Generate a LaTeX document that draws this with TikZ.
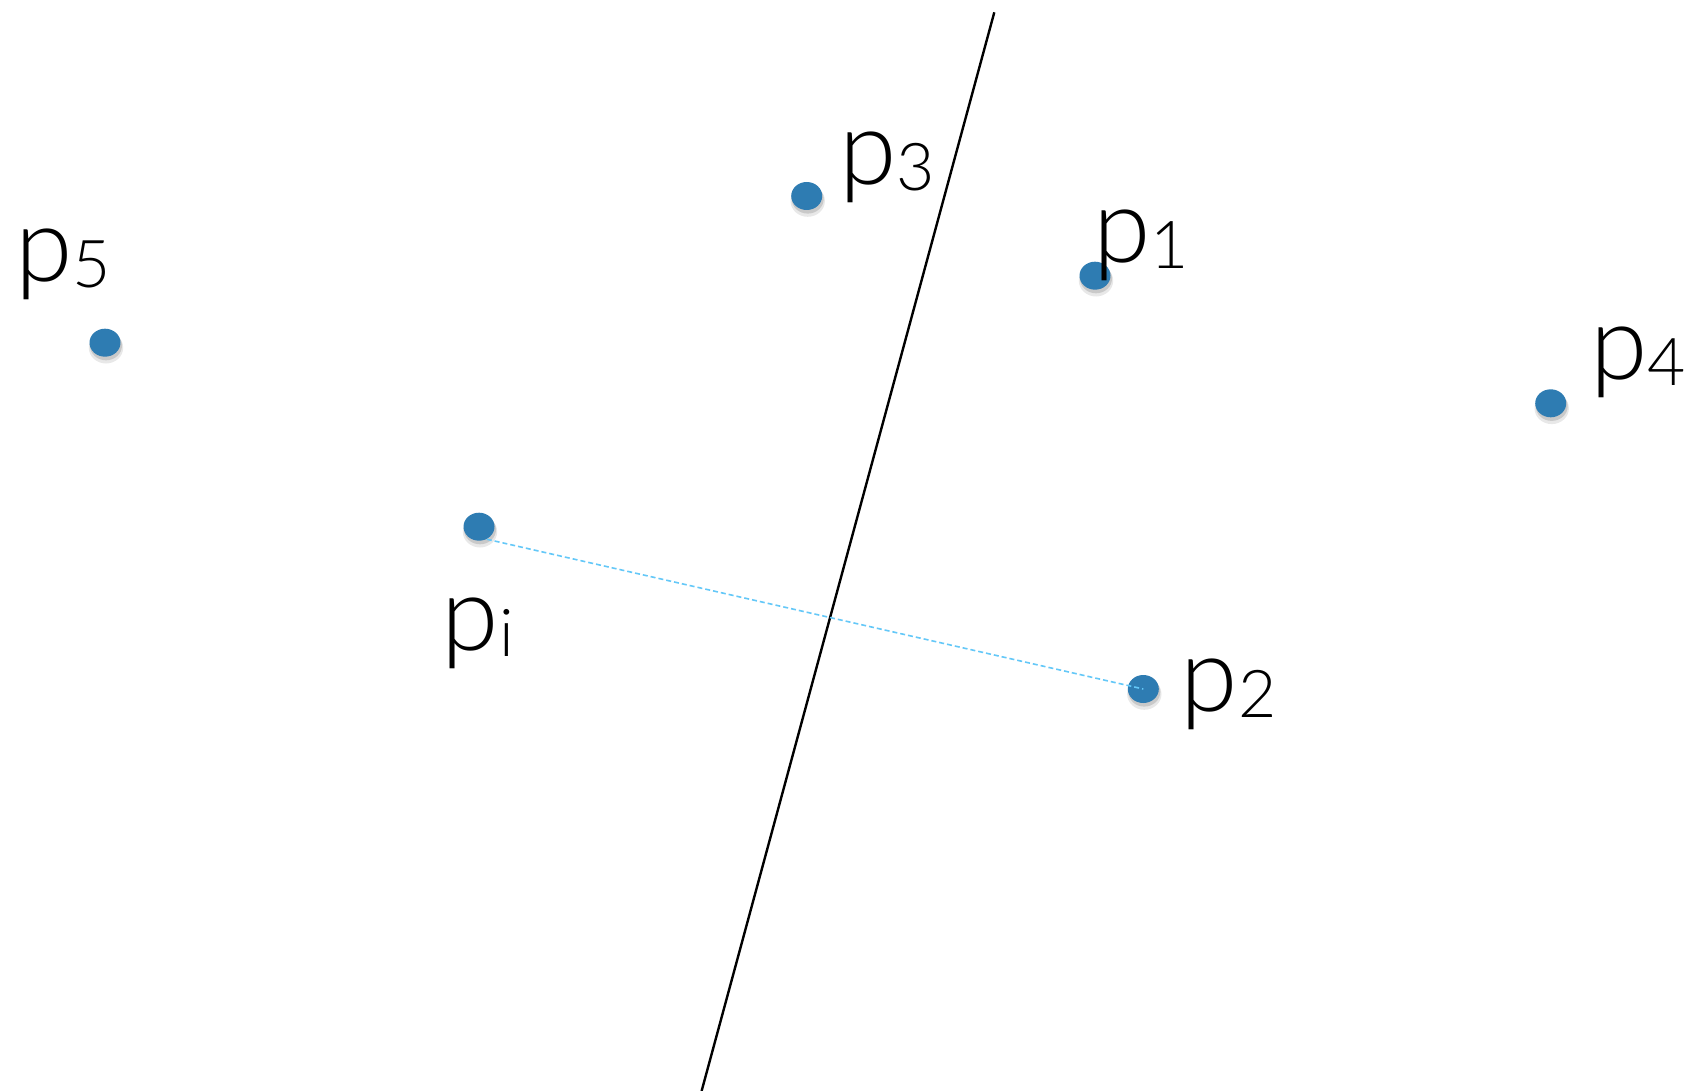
\documentclass[tikz,border=0pt]{standalone}
\usepackage{fontspec}
\setmainfont{Lato Light}
\usetikzlibrary{shapes.geometric}
\definecolor{dotblue}{RGB}{46,124,178}
\definecolor{dashblue}{RGB}{100,200,248}
\newcommand\mysub[1]{{\fontsize{33}{33}\selectfont\raisebox{-3pt}{#1}}}
\begin{document}
\begin{tikzpicture}[x=0.5pt,y=-0.5pt,
  dot/.style={ellipse,fill=dotblue,minimum width=15.5pt,minimum height=14pt,inner sep=0pt},
  shade1/.style={fill=black,opacity=0.09},
  shade2/.style={fill=black,opacity=0.13},
  lbl/.style={anchor=base west,inner sep=0pt,font=\fontsize{52}{52}\selectfont},
  sepline/.style={line width=1.2pt,black},
  link/.style={dashblue,line width=0.8pt,dash pattern=on 2.5pt off 1.5pt}]
\useasboundingbox (0,0) rectangle (1690,1091);
\fill[white] (0,0) rectangle (1690,1091);
% separating line
\coordinate (ltop) at (994.3,12.3);
\coordinate (lbot) at (701.6,1091);
\draw[sepline] (ltop) -- (lbot);
% shadows and dots
\foreach \x/\y in {105/342.7,806.7/196,1095/275.7,1550.7/403.3,479/526.7,1143.3/689}{
  \fill[shade1] (\x+1,\y+5) ellipse (8.6pt and 7.9pt);
  \fill[shade2] (\x+1,\y+3) ellipse (8pt and 7.3pt);
}
\node[dot] (p5) at (105,342.7) {};
\node[dot] (p3) at (806.7,196) {};
\node[dot] (p1) at (1095,275.7) {};
\node[dot] (p4) at (1550.7,403.3) {};
\node[dot] (pi) at (479,526.7) {};
\node[dot] (p2) at (1143.3,689) {};
% dashed link
\draw[link] (pi.-58) -- (p2.center);
% labels
\node[lbl] (l5) at (15,281) {p\mysub{5}};
\node[lbl] (l3) at (839,184.7) {p\mysub{3}};
\node[lbl] (l1) at (1093,263) {p\mysub{1}};
\node[lbl] (l4) at (1589.7,379.7) {p\mysub{4}};
\node[lbl] (li) at (441.3,650.3) {p\mysub{i}};
\node[lbl] (l2) at (1180.3,711.3) {p\mysub{2}};
\end{tikzpicture}
\end{document}
